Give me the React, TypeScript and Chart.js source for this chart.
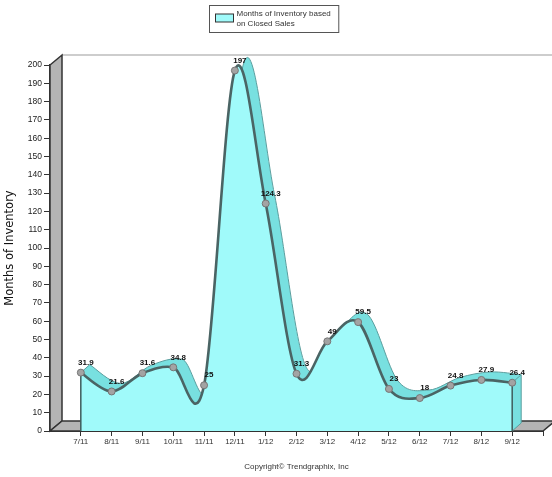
import React, { useEffect, useRef } from 'react';
import { Chart, registerables } from 'chart.js';

Chart.register(...registerables);

const categories = ['7/11', '8/11', '9/11', '10/11', '11/11', '12/11', '1/12', '2/12', '3/12', '4/12', '5/12', '6/12', '7/12', '8/12', '9/12'];
const inventoryValues = [31.9, 21.6, 31.6, 34.8, 25, 197, 124.3, 31.3, 49, 59.5, 23, 18, 24.8, 27.9, 26.4];
const valueLabels = ['31.9', '21.6', '31.6', '34.8', '25', '197', '124.3', '31.3', '49', '59.5', '23', '18', '24.8', '27.9', '26.4'];
const yTickValues = [0, 10, 20, 30, 40, 50, 60, 70, 80, 90, 100, 110, 120, 130, 140, 150, 160, 170, 180, 190, 200];
const legendLines = ['Months of Inventory based', 'on Closed Sales'];
const yAxisTitle = 'Months of Inventory';
const copyrightText = 'Copyright\u00A9 Trendgraphix, Inc';

const FRONT = '#a0fafa';
const RIBBON = '#78e0e0';
const LINE = '#4a6464';
const WALL = '#b4b4b4';
const DARK = '#333333';
const WALL_D = { dx: 12, dy: -10 };
const SERIES_D = { dx: 9, dy: -8 };

type P = { x: number; y: number };

function splineTo(ctx: CanvasRenderingContext2D, pts: P[], dx: number, dy: number, move: boolean) {
  if (move) ctx.moveTo(pts[0].x + dx, pts[0].y + dy);
  else ctx.lineTo(pts[0].x + dx, pts[0].y + dy);
  for (let i = 0; i < pts.length - 1; i++) {
    const p0 = pts[i - 1] || pts[i];
    const p1 = pts[i];
    const p2 = pts[i + 1];
    const p3 = pts[i + 2] || pts[i + 1];
    const c1x = p1.x + (p2.x - p0.x) / 6;
    const c1y = p1.y + (p2.y - p0.y) / 6;
    const c2x = p2.x - (p3.x - p1.x) / 6;
    const c2y = p2.y - (p3.y - p1.y) / 6;
    ctx.bezierCurveTo(c1x + dx, c1y + dy, c2x + dx, c2y + dy, p2.x + dx, p2.y + dy);
  }
}

const threeDPlugin = {
  id: 'threeD',
  beforeDatasetsDraw(chart: any) {
    const { ctx, chartArea } = chart;
    const { left, right, top, bottom } = chartArea;
    ctx.save();
    // back wall top line
    ctx.strokeStyle = '#bdbdbd';
    ctx.lineWidth = 1.5;
    ctx.beginPath();
    ctx.moveTo(left + WALL_D.dx, top + WALL_D.dy);
    ctx.lineTo(chart.width, top + WALL_D.dy);
    ctx.stroke();

    // left wall
    ctx.fillStyle = WALL;
    ctx.strokeStyle = DARK;
    ctx.lineWidth = 1.5;
    ctx.beginPath();
    ctx.moveTo(left, top);
    ctx.lineTo(left + WALL_D.dx, top + WALL_D.dy);
    ctx.lineTo(left + WALL_D.dx, bottom + WALL_D.dy);
    ctx.lineTo(left, bottom);
    ctx.closePath();
    ctx.fill();
    ctx.stroke();

    // floor
    ctx.beginPath();
    ctx.moveTo(left, bottom);
    ctx.lineTo(right, bottom);
    ctx.lineTo(right + WALL_D.dx, bottom + WALL_D.dy);
    ctx.lineTo(left + WALL_D.dx, bottom + WALL_D.dy);
    ctx.closePath();
    ctx.fill();
    ctx.stroke();

    const meta = chart.getDatasetMeta(0);
    const pts: P[] = meta.data.map((e: any) => ({ x: e.x, y: e.y }));
    if (pts.length < 2) { ctx.restore(); return; }
    const first = pts[0];
    const last = pts[pts.length - 1];
    const { dx, dy } = SERIES_D;

    // back (depth) surface incl. top ribbon and right face
    ctx.beginPath();
    ctx.moveTo(first.x, bottom);
    ctx.lineTo(first.x, first.y);
    splineTo(ctx, pts, dx, dy, false);
    ctx.lineTo(last.x + dx, bottom + dy);
    ctx.lineTo(last.x, bottom);
    ctx.closePath();
    ctx.fillStyle = RIBBON;
    ctx.fill();

    ctx.beginPath();
    splineTo(ctx, pts, dx, dy, true);
    ctx.lineTo(last.x + dx, bottom + dy);
    ctx.strokeStyle = '#5a9e9e';
    ctx.lineWidth = 1;
    ctx.stroke();
    ctx.beginPath();
    ctx.moveTo(first.x, first.y);
    ctx.lineTo(first.x + dx, first.y + dy);
    ctx.moveTo(last.x, last.y);
    ctx.lineTo(last.x + dx, last.y + dy);
    ctx.moveTo(last.x + dx, bottom + dy);
    ctx.lineTo(last.x, bottom);
    ctx.stroke();

    // front face
    ctx.beginPath();
    splineTo(ctx, pts, 0, 0, true);
    ctx.lineTo(last.x, bottom);
    ctx.lineTo(first.x, bottom);
    ctx.closePath();
    ctx.fillStyle = FRONT;
    ctx.fill();

    ctx.strokeStyle = '#3f5c5c';
    ctx.lineWidth = 1.5;
    ctx.beginPath();
    ctx.moveTo(first.x, first.y);
    ctx.lineTo(first.x, bottom);
    ctx.moveTo(last.x, last.y);
    ctx.lineTo(last.x, bottom);
    ctx.stroke();

    ctx.beginPath();
    splineTo(ctx, pts, 0, 0, true);
    ctx.strokeStyle = LINE;
    ctx.lineWidth = 2.6;
    ctx.lineJoin = 'round';
    ctx.lineCap = 'round';
    ctx.stroke();
    ctx.restore();
  },
  afterDatasetsDraw(chart: any) {
    const { ctx } = chart;
    const meta = chart.getDatasetMeta(0);
    ctx.save();
    ctx.font = 'bold 8px "Liberation Sans", Arial, sans-serif';
    ctx.fillStyle = '#111';
    ctx.textAlign = 'center';
    ctx.textBaseline = 'middle';
    meta.data.forEach((e: any, i: number) => {
      ctx.fillText(valueLabels[i], e.x + 5, e.y - 10);
    });
    ctx.restore();
  },
  afterDraw(chart: any) {
    const { ctx } = chart;
    ctx.save();
    ctx.font = '8px "Liberation Sans", Arial, sans-serif';
    const tw = Math.max(...legendLines.map((l) => ctx.measureText(l).width));
    const boxW = 6 + 18 + 3 + tw + 8;
    const boxH = 27;
    const bx = Math.round(chart.width / 2 - boxW / 2 - 2) + 0.5;
    const by = 5.5;
    ctx.strokeStyle = '#555';
    ctx.lineWidth = 1;
    ctx.strokeRect(bx, by, boxW, boxH);
    ctx.fillStyle = FRONT;
    ctx.fillRect(bx + 6, by + 8.5, 18, 8);
    ctx.strokeStyle = DARK;
    ctx.strokeRect(bx + 6, by + 8.5, 18, 8);
    ctx.fillStyle = '#333';
    ctx.textAlign = 'left';
    ctx.textBaseline = 'middle';
    legendLines.forEach((l, i) => ctx.fillText(l, bx + 27, by + 8.5 + i * 9.3));
    ctx.restore();
  },
};

export default function App() {
  const ref = useRef<HTMLCanvasElement | null>(null);
  useEffect(() => {
    if (!ref.current) return;
    const chart = new Chart(ref.current, {
      type: 'line',
      data: {
        datasets: [
          {
            label: legendLines.join(' '),
            data: inventoryValues.map((v, i) => ({ x: i, y: v })),
            showLine: false,
            pointRadius: 3.5,
            pointBackgroundColor: '#a3a3a3',
            pointBorderColor: '#767676',
            pointBorderWidth: 1,
            backgroundColor: FRONT,
            borderColor: LINE,
          },
        ],
      },
      options: {
        responsive: false,
        animation: false,
        layout: { padding: { top: 65, right: 9, bottom: 5.4, left: 0 } },
        plugins: {
          legend: { display: false },
          tooltip: { enabled: false },
          title: {
            display: true,
            position: 'bottom',
            fullSize: false,
            text: copyrightText,
            color: '#333',
            font: { family: '"Liberation Sans", Arial, sans-serif', size: 8, weight: 'normal' },
            padding: { top: 7, bottom: 0 },
          },
        },
        scales: {
          x: {
            type: 'linear',
            min: -1,
            max: categories.length,
            z: 1,
            afterBuildTicks: (s: any) => {
              const t = [];
              for (let v = -1; v <= categories.length; v++) t.push({ value: v });
              s.ticks = t;
            },
            afterFit: (s: any) => { s.height = 24; },
            ticks: {
              callback: (v: any) => categories[v] ?? '',
              autoSkip: false,
              maxRotation: 0,
              minRotation: 0,
              padding: 1,
              color: '#333',
              font: { family: '"Liberation Sans", Arial, sans-serif', size: 8 },
            },
            grid: {
              drawOnChartArea: false,
              drawTicks: true,
              tickLength: 5,
              color: (c: any) => (c.tick && c.tick.value === -1 ? 'rgba(0,0,0,0)' : DARK),
              lineWidth: 1,
            },
            border: { display: true, color: DARK, width: 2 },
          },
          y: {
            type: 'linear',
            min: yTickValues[0],
            max: yTickValues[yTickValues.length - 1],
            z: 1,
            afterBuildTicks: (s: any) => { s.ticks = yTickValues.map((v) => ({ value: v })); },
            afterFit: (s: any) => { s.width = 50; },
            ticks: {
              padding: 2,
              color: '#222',
              font: { family: '"Liberation Sans", Arial, sans-serif', size: 8.5 },
            },
            grid: { drawOnChartArea: false, drawTicks: true, tickLength: 6, color: DARK, lineWidth: 1 },
            border: { display: true, color: DARK, width: 2 },
            title: {
              display: true,
              text: yAxisTitle,
              color: '#111',
              font: { family: '"DejaVu Sans", Verdana, sans-serif', size: 11.5 },
              padding: { top: 3, bottom: 0 },
            },
          },
        },
      },
      plugins: [threeDPlugin],
    } as any);
    return () => chart.destroy();
  }, []);
  return (
    <div style={{ position: 'fixed', left: 0, top: 0, width: 552, height: 477, background: '#fff' }}>
      <canvas ref={ref} width={552} height={477} style={{ display: 'block' }} />
    </div>
  );
}
